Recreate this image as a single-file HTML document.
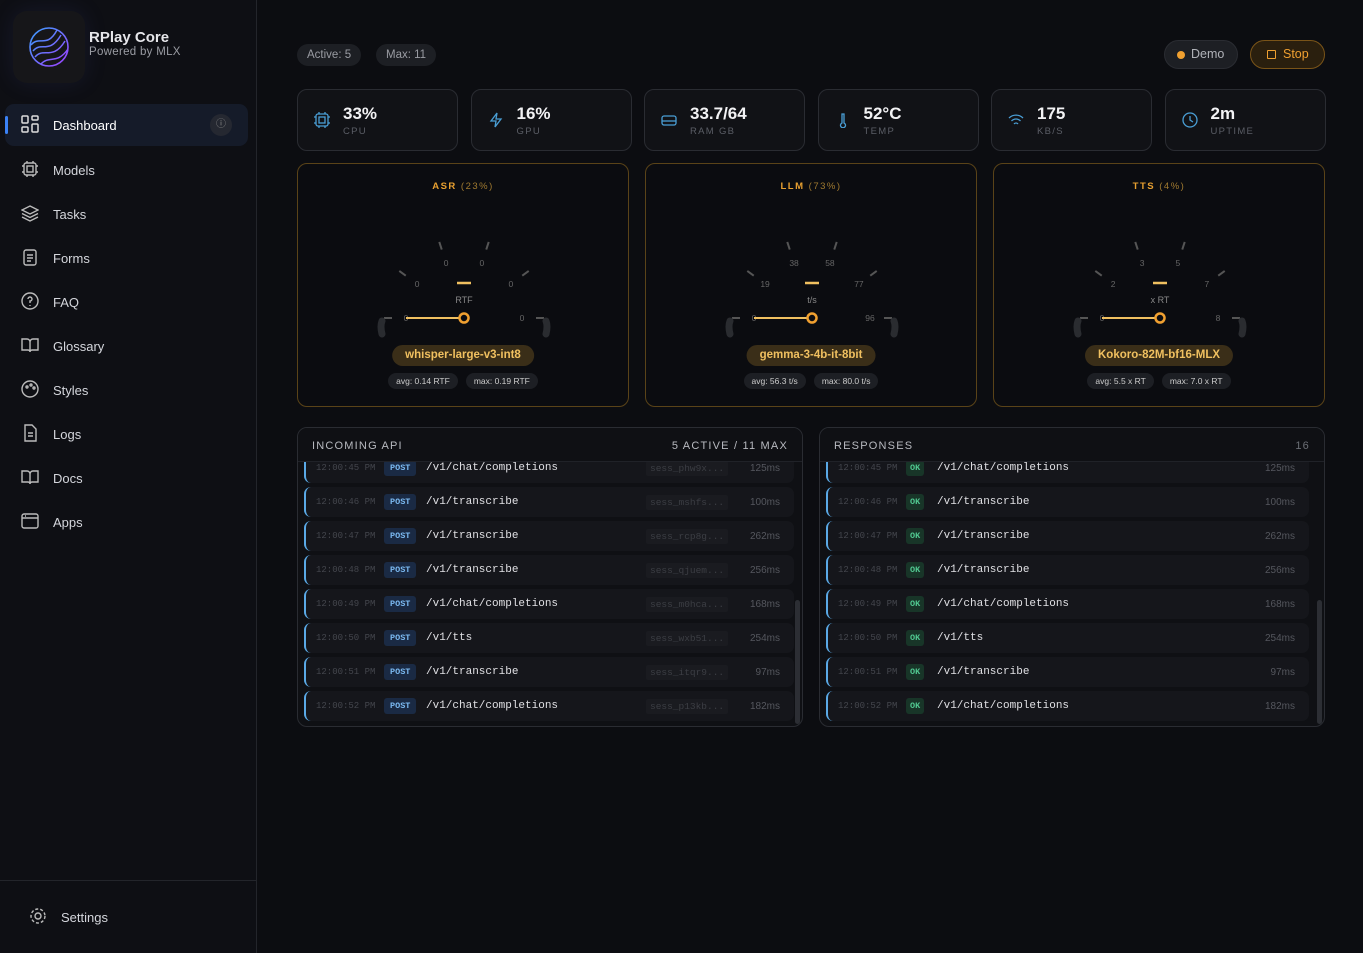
<!DOCTYPE html>
<html><head><meta charset="utf-8">
<style>
*{box-sizing:border-box;margin:0;padding:0}
body{width:1363px;height:953px;background:#0c0d11;font-family:"Liberation Sans",sans-serif;color:#e6e6ea;position:relative;overflow:hidden}
.sb{position:absolute;left:0;top:0;width:257px;height:953px;background:#0e0f14;border-right:1px solid #23252b}
.logo{position:absolute;left:13px;top:11px;width:72px;height:72px;border-radius:14px;background:#161619;box-shadow:0 0 24px rgba(80,90,200,.12)}
.nav{position:absolute;left:5px;width:243px;height:42px;border-radius:9px;display:flex;align-items:center;padding-left:48px;font-size:13px;color:#d4d6dc}
.nav svg{position:absolute;left:16px;top:11px}
.pill{position:absolute;top:44px;height:22px;border-radius:11px;background:#1d1f24;color:#9a9ca3;font-size:11.5px;line-height:22px;padding:0 10px}
.stat{position:absolute;top:89px;width:161px;height:62px;border:1px solid #2a2c32;border-radius:10px;background:#111216}
.stat .v{position:absolute;left:45px;top:14px;font-size:17px;font-weight:bold;color:#f2f2f4}
.stat .l{position:absolute;left:45px;top:36px;font-size:9.5px;letter-spacing:1.3px;color:#5b5e66}
.stat svg{position:absolute;left:16px;top:22px}
.gc{position:absolute;top:163px;width:332px;height:244px;border:1px solid #5a4318;border-radius:10px;background:#0b0c10}
.panel{position:absolute;top:427px;height:300px;border:1px solid #2a2c32;border-radius:10px;background:#0f1014;overflow:hidden}
.ph{position:relative;z-index:2;background:#0f1014;height:34px;border-bottom:1px solid #202228;display:flex;justify-content:space-between;align-items:center;padding:2px 14px 0;font-size:11px;letter-spacing:1.2px;color:#b8bac0}
.row{position:absolute;left:6px;height:30px;border-radius:7px;background:#15161b;border-left:2px solid #5aa9e6;font-family:"Liberation Mono",monospace;font-size:11px}
.row span{position:absolute;top:9px}
</style></head><body>
<div class="sb">
 <div class="logo">
  <svg width="72" height="72" viewBox="0 0 72 72"><defs><linearGradient id="lg" x1="0" y1="0" x2="1" y2="1"><stop offset="0" stop-color="#3aa0ff"/><stop offset="1" stop-color="#a040ff"/></linearGradient></defs>
  <circle cx="36" cy="36" r="19" fill="none" stroke="url(#lg)" stroke-width="1.6"/>
  <path d="M20 40 C28 30,36 44,48 24 M22 46 C30 36,40 50,52 30 M18 34 C26 24,34 38,44 19 M28 53 C36 44,44 54,55 38" fill="none" stroke="url(#lg)" stroke-width="1.5"/></svg>
 </div>
 <div style="position:absolute;left:89px;top:29px;font-size:15px;font-weight:bold">RPlay Core</div>
 <div style="position:absolute;left:89px;top:46px;font-size:11.5px;color:#9a9ca3;letter-spacing:.3px">Powered by MLX</div>
 <div class="nav" style="top:104px;background:#151b29;color:#fff"><div style="position:absolute;left:0;top:12px;width:3px;height:18px;background:#3b82f6;border-radius:2px"></div><svg width="18" height="18" viewBox="0 0 18 18" fill="none" stroke="#ddd" stroke-width="1.5"><rect x="1" y="1" width="6" height="7" rx="1"/><rect x="11" y="1" width="6" height="4" rx="1"/><rect x="1" y="12" width="6" height="5" rx="1"/><rect x="11" y="9" width="6" height="8" rx="1"/></svg>Dashboard<div style="position:absolute;right:16px;top:10px;width:22px;height:22px;border-radius:11px;background:#252831;color:#888;font-size:10px;text-align:center;line-height:22px">ⓘ</div></div>
 <div class="nav" style="top:149px"><svg width="18" height="18" viewBox="0 0 18 18" fill="none" stroke="#bbb" stroke-width="1.4"><rect x="3" y="3" width="12" height="12" rx="2"/><rect x="6" y="6" width="6" height="6"/><path d="M6 1v2M12 1v2M6 15v2M12 15v2M1 6h2M1 12h2M15 6h2M15 12h2"/></svg>Models</div>
 <div class="nav" style="top:193px"><svg width="18" height="18" viewBox="0 0 18 18" fill="none" stroke="#bbb" stroke-width="1.4"><path d="M9 2l8 4-8 4-8-4z M1 9.5l8 4 8-4 M1 13l8 4 8-4"/></svg>Tasks</div>
 <div class="nav" style="top:237px"><svg width="18" height="18" viewBox="0 0 18 18" fill="none" stroke="#bbb" stroke-width="1.4"><rect x="3" y="2" width="12" height="15" rx="2"/><path d="M6 7h6M6 10h6M6 13h4"/></svg>Forms</div>
 <div class="nav" style="top:281px"><svg width="18" height="18" viewBox="0 0 18 18" fill="none" stroke="#bbb" stroke-width="1.4"><circle cx="9" cy="9" r="8"/><path d="M7 7a2 2 0 1 1 2 2v2M9 13v1"/></svg>FAQ</div>
 <div class="nav" style="top:325px"><svg width="18" height="18" viewBox="0 0 18 18" fill="none" stroke="#bbb" stroke-width="1.4"><path d="M1 3h5a3 3 0 0 1 3 3v10a2 2 0 0 0-2-2H1z M17 3h-5a3 3 0 0 0-3 3v10a2 2 0 0 1 2-2h6z"/></svg>Glossary</div>
 <div class="nav" style="top:369px"><svg width="18" height="18" viewBox="0 0 18 18" fill="none" stroke="#bbb" stroke-width="1.4"><circle cx="9" cy="9" r="8"/><circle cx="6" cy="7" r="1"/><circle cx="10" cy="5" r="1"/><circle cx="13" cy="8" r="1"/></svg>Styles</div>
 <div class="nav" style="top:413px"><svg width="18" height="18" viewBox="0 0 18 18" fill="none" stroke="#bbb" stroke-width="1.4"><path d="M4 1h7l4 4v12H4z"/><path d="M7 9h5M7 12h5"/></svg>Logs</div>
 <div class="nav" style="top:457px"><svg width="18" height="18" viewBox="0 0 18 18" fill="none" stroke="#bbb" stroke-width="1.4"><path d="M1 3h5a3 3 0 0 1 3 3v10a2 2 0 0 0-2-2H1z M17 3h-5a3 3 0 0 0-3 3v10a2 2 0 0 1 2-2h6z"/></svg>Docs</div>
 <div class="nav" style="top:501px"><svg width="18" height="18" viewBox="0 0 18 18" fill="none" stroke="#bbb" stroke-width="1.4"><rect x="1" y="2" width="16" height="14" rx="2"/><path d="M1 6h16M4 4h1"/></svg>Apps</div>
 <div style="position:absolute;left:0;top:880px;width:256px;border-top:1px solid #23252b"></div>
 <div class="nav" style="top:896px;padding-left:56px"><svg style="left:24px" width="18" height="18" viewBox="0 0 18 18" fill="none" stroke="#bbb" stroke-width="1.4"><circle cx="9" cy="9" r="3"/><circle cx="9" cy="9" r="7" stroke-dasharray="3 2"/></svg>Settings</div>
</div>

<div class="pill" style="left:297px">Active: 5</div>
<div class="pill" style="left:376px">Max: 11</div>
<div style="position:absolute;left:1164px;top:40px;width:74px;height:29px;border-radius:15px;background:#1d1f24;border:1px solid #2a2c32;font-size:12.5px;color:#b0b2b8;line-height:27px;padding-left:26px"><div style="position:absolute;left:12px;top:10px;width:8px;height:8px;border-radius:4px;background:#f0a030"></div>Demo</div>
<div style="position:absolute;left:1250px;top:40px;width:75px;height:29px;border-radius:15px;background:#2a1f0e;border:1px solid #7a5418;font-size:12.5px;color:#f0a030;line-height:27px;padding-left:32px"><div style="position:absolute;left:16px;top:9px;width:9px;height:9px;border:1.4px solid #f0a030;border-radius:1px"></div>Stop</div>

<div id="stats"></div>
<div id="gauges"></div>
<div class="panel" style="left:297px;width:506px"><div class="ph"><span>INCOMING API</span><span>5 ACTIVE / 11 MAX</span></div><div id="inrows"></div><div style="position:absolute;right:2px;top:172px;width:5px;height:124px;border-radius:3px;background:#2c2e34"></div></div>
<div class="panel" style="left:819px;width:506px"><div class="ph"><span>RESPONSES</span><span style="color:#6b6e75">16</span></div><div id="outrows"></div><div style="position:absolute;right:2px;top:172px;width:5px;height:124px;border-radius:3px;background:#2c2e34"></div></div>

<script>
const statVals=["33%","16%","33.7/64","52°C","175","2m"];
const statLabels=["CPU","GPU","RAM GB","TEMP","KB/S","UPTIME"];
const icons=[
'<rect x="2" y="2" width="12" height="12" rx="2"/><rect x="5" y="5" width="6" height="6"/><path d="M5 0v2M11 0v2M5 14v2M11 14v2M0 5h2M0 11h2M14 5h2M14 11h2"/>',
'<path d="M9 1L3 9h5l-1 6 6-8H8z"/>',
'<rect x="1" y="4" width="14" height="9" rx="2"/><path d="M1 9h14"/>',
'<path d="M7 2v9a2.5 2.5 0 1 0 2 0V2z"/>',
'<path d="M1 6a10 10 0 0 1 14 0M3.5 9a6 6 0 0 1 9 0M6 12a2.5 2.5 0 0 1 4 0"/>',
'<circle cx="8" cy="8" r="7"/><path d="M8 4v4l3 2"/>'];
let sh='';
statVals.forEach((v,i)=>{sh+=`<div class="stat" style="left:${297+i*173.5}px"><svg width="16" height="16" viewBox="0 0 16 16" fill="none" stroke="#4a9fd6" stroke-width="1.3">${icons[i]}</svg><div class="v">${v}</div><div class="l">${statLabels[i]}</div></div>`});
document.getElementById('stats').innerHTML=sh;

const gNames=["ASR","LLM","TTS"];
const gPct=[23,73,4];
const gUnits=["RTF","t/s","x RT"];
const gModels=["whisper-large-v3-int8","gemma-3-4b-it-8bit","Kokoro-82M-bf16-MLX"];
const gAvg=["avg: 0.14 RTF","avg: 56.3 t/s","avg: 5.5 x RT"];
const gMax=["max: 0.19 RTF","max: 80.0 t/s","max: 7.0 x RT"];
const gTicks=[["0","0","0","0","0","0"],["0","19","38","58","77","96"],["0","2","3","5","7","8"]];
const gNeedle=[0,0,0];
let gh='';
gNames.forEach((n,i)=>{
 const cx=166,cy=154;let s='';
 gTicks[i].forEach((t,k)=>{const a=Math.PI*(1-k/5);const c=Math.cos(a),sn=Math.sin(a);
  s+=`<line x1="${cx+c*72}" y1="${cy-sn*72}" x2="${cx+c*80}" y2="${cy-sn*80}" stroke="#555" stroke-width="2"/>`;
  s+=`<text x="${cx+c*58}" y="${cy-sn*58+3}" fill="#666" font-size="8.5" text-anchor="middle">${t}</text>`;});
 const na=Math.PI*(1-gNeedle[i]);
 s+=`<path d="M84 157 Q82 162 84 170 M248 157 Q250 162 248 170" stroke="#2a2c30" stroke-width="7" stroke-linecap="round" fill="none"/>`;
 s+=`<line x1="${cx}" y1="${cy}" x2="${cx+Math.cos(na)*58}" y2="${cy-Math.sin(na)*58}" stroke="#f0c060" stroke-width="2"/><circle cx="${cx}" cy="${cy}" r="4.5" fill="#0b0c10" stroke="#f0a030" stroke-width="2.5"/>`;
 s+=`<line x1="${cx-7}" y1="119" x2="${cx+7}" y2="119" stroke="#f0c060" stroke-width="2.5"/><text x="${cx}" y="139" fill="#888" font-size="9" text-anchor="middle">${gUnits[i]}</text>`;
 gh+=`<div class="gc" style="left:${297+i*348}px">
 <div style="position:absolute;top:17px;width:100%;text-align:center;font-size:9.5px;letter-spacing:1.5px;color:#e8a030;font-weight:bold">${n} <span style="font-weight:normal;color:#a07a30">(${gPct[i]}%)</span></div>
 <svg style="position:absolute;left:0;top:0" width="332" height="180">${s}</svg>
 <div style="position:absolute;top:181px;left:50%;transform:translateX(-50%);height:21px;border-radius:11px;background:#3a2e18;color:#f0c060;font-size:11.5px;font-weight:bold;line-height:21px;padding:0 13px;white-space:nowrap">${gModels[i]}</div>
 <div style="position:absolute;top:209px;width:100%;display:flex;justify-content:center;gap:8px;font-size:8.5px;color:#ccc"><span style="background:#1d1f24;border-radius:8px;padding:3px 8px">${gAvg[i]}</span><span style="background:#1d1f24;border-radius:8px;padding:3px 8px">${gMax[i]}</span></div></div>`;});
document.getElementById('gauges').innerHTML=gh;

const times=["12:00:45 PM","12:00:46 PM","12:00:47 PM","12:00:48 PM","12:00:49 PM","12:00:50 PM","12:00:51 PM","12:00:52 PM"];
const paths=["/v1/chat/completions","/v1/transcribe","/v1/transcribe","/v1/transcribe","/v1/chat/completions","/v1/tts","/v1/transcribe","/v1/chat/completions"];
const sess=["sess_phw9x...","sess_mshfs...","sess_rcp8g...","sess_qjuem...","sess_m0hca...","sess_wxb51...","sess_itqr9...","sess_p13kb..."];
const lat=["125ms","100ms","262ms","256ms","168ms","254ms","97ms","182ms"];
let a='',b='';
times.forEach((t,i)=>{const top=25+i*34;
 a+=`<div class="row" style="top:${top}px;width:490px"><span style="left:10px;color:#44464d;font-size:9px;top:10px">${t}</span><span style="left:78px;top:7px;background:#1a2a44;color:#7ab8f0;font-size:8.5px;font-weight:bold;padding:3px 6px;border-radius:3px">POST</span><span style="left:120px;color:#e0e0e4">${paths[i]}</span><span style="left:340px;top:8px;background:#1a1b20;color:#3c3e44;font-size:9.5px;padding:2px 4px;border-radius:2px">${sess[i]}</span><span style="right:14px;top:10px;color:#55575e;font-family:'Liberation Sans',sans-serif;font-size:10px">${lat[i]}</span></div>`;
 b+=`<div class="row" style="top:${top}px;width:483px"><span style="left:10px;color:#44464d;font-size:9px;top:10px">${t}</span><span style="left:78px;top:7px;background:#183528;color:#50c890;font-size:8.5px;font-weight:bold;padding:3px 4px;border-radius:3px">OK</span><span style="left:109px;color:#e0e0e4">${paths[i]}</span><span style="right:14px;top:10px;color:#55575e;font-family:'Liberation Sans',sans-serif;font-size:10px">${lat[i]}</span></div>`;});
document.getElementById('inrows').innerHTML=a;
document.getElementById('outrows').innerHTML=b;
</script>
</body></html>
